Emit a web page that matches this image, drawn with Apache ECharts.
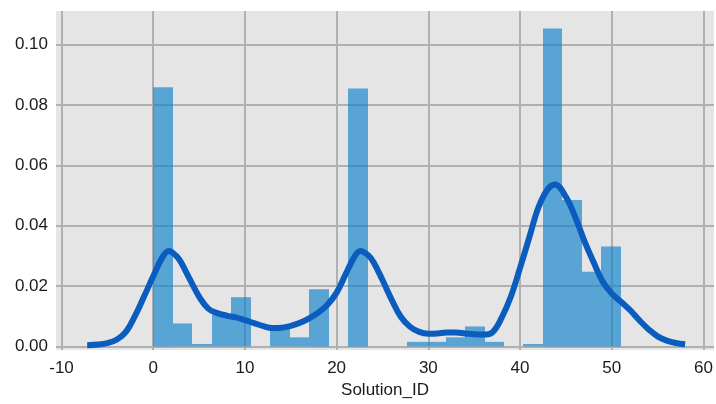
<!DOCTYPE html>
<html>
<head>
<meta charset="utf-8">
<script src="https://cdn.jsdelivr.net/npm/echarts@6/dist/echarts.min.js"></script>
<style>
  html, body { margin: 0; padding: 0; background: #fff; }
  #chart { width: 716px; height: 404px; }
</style>
</head>
<body>
<div id="chart"></div>
<script>
// histogram bins (density)
var binEdges = [0, 2.125, 4.25, 6.375, 8.5, 10.625, 12.75, 14.875, 17, 19.125, 21.25, 23.375,
  25.5, 27.625, 29.75, 31.875, 34, 36.125, 38.25, 40.375, 42.5, 44.625, 46.75, 48.875, 51]
var binHeights = [0.0858, 0.0076, 0.0008, 0.0105, 0.0163, 0, 0.0062, 0.0030, 0.0189, 0, 0.0854, 0,
  0, 0.0015, 0.0015, 0.0030, 0.0066, 0.0015, 0, 0.0008, 0.1053, 0.0485, 0.0247, 0.0331]

// kde curve
var kdeX = [-7.2, -6, -5, -4, -3, -2, -1, 0, 1, 1.7, 2.5, 3, 4, 5, 6, 7, 8, 9, 10, 11, 12, 13, 14, 15,
  16, 17, 18, 19, 20, 21, 22, 22.6, 23.5, 24, 25, 26, 27, 28, 29, 30, 31, 32, 33, 34, 35, 36, 37, 38,
  39, 40, 41, 42, 43, 43.8, 45, 46, 47, 48, 49, 50, 51, 52, 53, 54, 55, 56, 57, 58]
var kdeY = [0.0004, 0.0006, 0.0011, 0.0022, 0.0047, 0.0100, 0.0165, 0.0232, 0.0295, 0.0316, 0.0300,
  0.0280, 0.0222, 0.0165, 0.0125, 0.0110, 0.0102, 0.0096, 0.0087, 0.0077, 0.0067, 0.0061, 0.0062,
  0.0068, 0.0078, 0.0093, 0.0112, 0.0138, 0.0178, 0.0240, 0.0300, 0.0316, 0.0300, 0.0280, 0.0220,
  0.0155, 0.0098, 0.0065, 0.0048, 0.0042, 0.0043, 0.0046, 0.0046, 0.0043, 0.0040, 0.0039, 0.0047,
  0.0095, 0.0165, 0.0260, 0.0360, 0.0460, 0.0520, 0.0536, 0.0495, 0.0430, 0.0350, 0.0280, 0.0215,
  0.0175, 0.0148, 0.0120, 0.0087, 0.0057, 0.0033, 0.0019, 0.0011, 0.0007]

var xTicks = [-10, 0, 10, 20, 30, 40, 50, 60]
var yTicks = [0, 0.02, 0.04, 0.06, 0.08, 0.10]

var histData = []
binHeights.forEach(function (h, i) {
  histData.push([binEdges[i], binEdges[i + 1], h])
})
var kdeData = kdeX.map(function (x, i) { return [x, kdeY[i]] })

var chart = echarts.init(document.getElementById('chart'))
var labelFont = { fontFamily: 'Liberation Sans, Arial, sans-serif', fontSize: 17, color: '#1a1a1a' }

chart.setOption({
  animation: false,
  grid: {
    left: 56, right: 2, top: 11, bottom: 52,
    show: true, backgroundColor: '#e5e5e5', borderWidth: 0
  },
  xAxis: {
    type: 'value',
    min: -10.6,
    max: 61.15,
    name: 'Solution_ID',
    nameLocation: 'middle',
    nameGap: 32,
    nameTextStyle: labelFont,
    axisLine: { show: false },
    axisTick: { show: false, customValues: xTicks },
    axisLabel: Object.assign({ customValues: xTicks, margin: 10 }, labelFont),
    splitLine: { show: true, lineStyle: { color: '#b0b0b0', width: 2 } }
  },
  yAxis: {
    type: 'value',
    min: -0.0012,
    max: 0.1111,
    axisLine: { show: false },
    axisTick: { show: false, customValues: yTicks },
    axisLabel: Object.assign({
      customValues: yTicks, margin: 8,
      formatter: function (v) { return v.toFixed(2) }
    }, labelFont),
    splitLine: { show: true, lineStyle: { color: '#b0b0b0', width: 2 } }
  },
  series: [
    {
      type: 'custom',
      data: histData,
      encode: { x: [0, 1], y: 2 },
      renderItem: function (params, api) {
        var p0 = api.coord([api.value(0), api.value(2)])
        var p1 = api.coord([api.value(1), 0])
        var x0 = Math.round(p0[0]), x1 = Math.round(p1[0])
        return {
          type: 'rect',
          shape: { x: x0, y: p0[1], width: x1 - x0, height: p1[1] - p0[1] },
          style: { fill: 'rgba(12,130,204,0.65)' }
        }
      },
      z: 2
    },
    {
      type: 'line',
      data: kdeData,
      smooth: 0.4,
      showSymbol: false,
      lineStyle: { color: '#0a5cbf', width: 6 },
      z: 3
    }
  ]
})
</script>
</body>
</html>
